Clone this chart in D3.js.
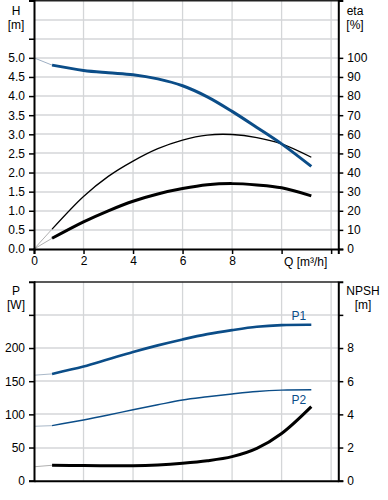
<!DOCTYPE html>
<html><head><meta charset="utf-8">
<script src="https://cdn.jsdelivr.net/npm/d3@7"></script>
<style>
html,body{margin:0;padding:0;background:#fff;}
svg{display:block;font-family:"Liberation Sans",Arial,sans-serif;}
</style></head>
<body><svg id="c" width="388" height="500"></svg>
<script>
// ---- data ----
const Q        = [0.73, 2, 3, 4, 5, 6, 7, 8, 9, 10, 11.2];
const H        = [4.81, 4.67, 4.61, 4.56, 4.45, 4.27, 3.98, 3.60, 3.18, 2.75, 2.16];
const ETA      = [10.4, 27.5, 38, 46, 52.5, 57, 59.6, 59.9, 58.3, 55, 48];
const ETA_TOT  = [5.6, 14.2, 20, 25, 28.8, 31.6, 33.6, 34.2, 33.5, 32, 27.8];
const P1       = [161, 172, 183, 194, 204, 213, 221, 227, 232, 234.5, 235];
const P2       = [83, 91.5, 99, 107, 114.5, 121.7, 126.5, 130.8, 134.5, 136.5, 137];
const NPSH     = [0.93, 0.91, 0.90, 0.90, 0.95, 1.05, 1.2, 1.45, 1.95, 2.85, 4.47];
// values at Q = 0 (thin extension to the operating range)
const START = {H: 5.0, ETA: 0, ETA_TOT: 0, P1: 159, P2: 82, NPSH: 0.84};

const xTicks    = [0, 2, 4, 6, 8, 10, 12];
const xLabels   = ["0", "2", "4", "6", "8", "", ""];
const hTicks    = [0, 0.5, 1, 1.5, 2, 2.5, 3, 3.5, 4, 4.5, 5, 5.5];
const hLabels   = ["0.0","0.5","1.0","1.5","2.0","2.5","3.0","3.5","4.0","4.5","5.0",""];
const hGrid     = [0.5,1,1.5,2,2.5,3,3.5,4,4.5,5,5.5,6];
const etaTicks  = [0,10,20,30,40,50,60,70,80,90,100];
const pTicks    = [0, 50, 100, 150, 200, 250];
const pLabels   = ["0","50","100","150","200",""];
const pGrid     = [50,100,150,200,250];
const npshTicks = [0, 2, 4, 6, 8, 10];
const npshLabels= ["0","2","4","6","8",""];

const BLUE = "#0b4d88";
const svg = d3.select("#c");

const x = d3.scaleLinear().domain([0, 12.29]).range([34, 338.3]);
const yH = d3.scaleLinear().domain([0, 6.5]).range([249, 0.5]);
const yEta = d3.scaleLinear().domain([0, 130]).range([249, 0.5]);
const yP = d3.scaleLinear().domain([0, 300]).range([480.7, 281.7]);
const yN = d3.scaleLinear().domain([0, 12]).range([480.7, 281.7]);

function grid(yScale, yVals, top, bottom){
  const g = svg.append("g").attr("stroke","#d4d6d8").attr("stroke-width",1.3);
  yVals.forEach(v => g.append("line").attr("x1",x(0)).attr("x2",x.range()[1])
     .attr("y1",Math.round(yScale(v))).attr("y2",Math.round(yScale(v))));
  xTicks.filter(v=>v>0).forEach(v => g.append("line").attr("x1",x(v)).attr("x2",x(v))
     .attr("y1",top).attr("y2",bottom));
}
grid(yH, hGrid, 0, 249);
grid(yP, pGrid, 281.7, 480.7);

const curve = d3.curveCatmullRom.alpha(0.5);
function series(yScale, vals, start, color, width, extColor){
  const ext = [[0,start],[Q[0],vals[0]]];
  svg.append("path").attr("d", d3.line().x(d=>x(d[0])).y(d=>yScale(d[1]))(ext))
     .attr("fill","none").attr("stroke",extColor).attr("stroke-width",1);
  const pts = Q.map((q,i)=>[q, vals[i]]);
  svg.append("path").attr("d", d3.line().curve(curve).x(d=>x(d[0])).y(d=>yScale(d[1]))(pts))
     .attr("fill","none").attr("stroke",color).attr("stroke-width",width)
     .attr("stroke-linecap","butt");
}
series(yEta, ETA, START.ETA, "#000", 1.3, "#b0b0b0");
series(yEta, ETA_TOT, START.ETA_TOT, "#000", 3, "#b0b0b0");
series(yH, H, START.H, BLUE, 3, "#9fb0c4");
series(yP, P1, START.P1, BLUE, 2.6, "#a9b8c8");
series(yP, P2, START.P2, BLUE, 1.4, "#a9b8c8");
series(yN, NPSH, START.NPSH, "#000", 3, "#b0b0b0");

// axes
function frame(top){
  svg.append("line").attr("x1",x(0)).attr("x2",x.range()[1]).attr("y1",top).attr("y2",top)
     .attr("stroke","#222").attr("stroke-width",1.5);
}
frame(0.8); frame(282);

const fs = "12px";
const axH = svg.append("g").attr("transform",`translate(${x(0)},0)`)
  .call(d3.axisLeft(yH).tickValues(hTicks).tickSize(5).tickPadding(4).tickFormat((d,i)=>hLabels[i]));
const axEta = svg.append("g").attr("transform",`translate(${x.range()[1]},0)`)
  .call(d3.axisRight(yEta).tickValues(etaTicks).tickSize(5).tickPadding(4).tickFormat(d=>d));
const axX = svg.append("g").attr("transform",`translate(0,249)`)
  .call(d3.axisBottom(x).tickValues(xTicks).tickSize(5).tickPadding(2).tickFormat((d,i)=>xLabels[i]));
const axP = svg.append("g").attr("transform",`translate(${x(0)},0)`)
  .call(d3.axisLeft(yP).tickValues(pTicks).tickSize(5).tickPadding(4).tickFormat((d,i)=>pLabels[i]));
const axN = svg.append("g").attr("transform",`translate(${x.range()[1]},0)`)
  .call(d3.axisRight(yN).tickValues(npshTicks).tickSize(5).tickPadding(4).tickFormat((d,i)=>npshLabels[i]));
const axX2 = svg.append("g").attr("transform",`translate(0,480.7)`)
  .call(d3.axisBottom(x).tickValues([]).tickSize(0));

[axH,axEta,axX,axP,axN,axX2].forEach(a=>{
  a.selectAll(".domain").attr("stroke","#000").attr("stroke-width",2);
  a.selectAll(".tick line").attr("stroke","#000").attr("stroke-width",1.5);
  a.selectAll("text").attr("font-size",fs).attr("fill","#000")
   .attr("font-family","'Liberation Sans',Arial,sans-serif");
});

function label(t, xx, yy, anchor, color){
  svg.append("text").text(t).attr("x",xx).attr("y",yy).attr("text-anchor",anchor||"middle")
   .attr("font-size",fs).attr("fill",color||"#000");
}
label("H", 16, 15); label("[m]", 16, 29);
label("eta", 355, 15); label("[%]", 355, 29);
label("Q [m³/h]", 284, 266, "start");
label("P", 16, 295); label("[W]", 16, 309);
label("NPSH", 363, 295); label("[m]", 363, 309);
label("P1", x(10.7), yP(242), "middle", BLUE);
label("P2", x(10.7), yP(116), "middle", BLUE);
</script></body></html>
